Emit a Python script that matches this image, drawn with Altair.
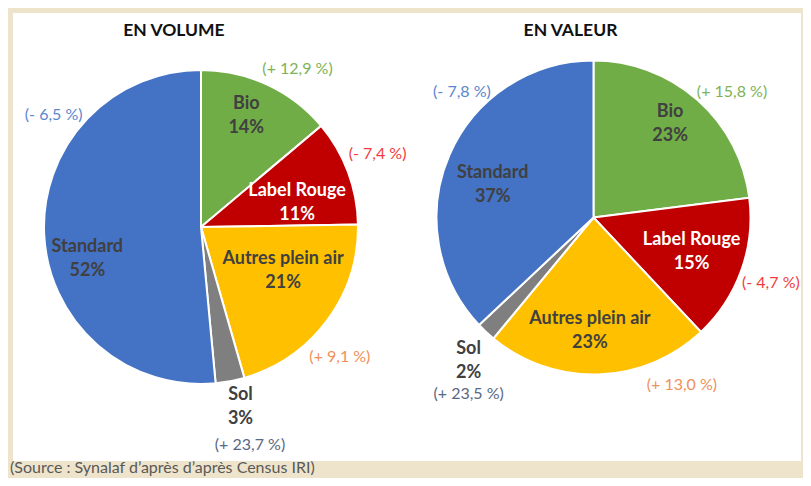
import math
import altair as alt
import pandas as pd

# ---------------- data ----------------
categories = ["Bio", "Label Rouge", "Autres plein air", "Sol", "Standard"]
volume_share = [14, 11, 21, 3, 52]
value_share = [23, 15, 23, 2, 37]
volume_change = ["(+ 12,9 %)", "(- 7,4 %)", "(+ 9,1 %)", "(+ 23,7 %)", "(- 6,5 %)"]
value_change = ["(+ 15,8 %)", "(- 4,7 %)", "(+ 13,0 %)", "(+ 23,5 %)", "(- 7,8 %)"]
titles = ["EN VOLUME", "EN VALEUR"]
source_text = "(Source : Synalaf d\u2019apr\u00e8s d\u2019apr\u00e8s Census IRI)"

# ---------------- styles / layout ----------------
slice_colors = ["#70AD47", "#C00000", "#FFC000", "#7F7F7F", "#4472C4"]
change_colors = ["#7DB356", "#F03C3C", "#F0905A", "#5A6782", "#5B86D0"]
label_colors = ["#404040", "#FFFFFF", "#404040", "#404040", "#404040"]

W, H = 795, 470
R = 157
centers = [(193, 219), (585.5, 209.5)]
title_pos = [(166, 23), (562.5, 23)]

# (angle nudge in degrees from slice mid-angle, radius in px)
label_nudge = [
    [(-2.8, 120), (6.7, 99), (-8.5, 93), (-1.7, 184), (-12.9, 118)],
    [(-2.1, 121), (-0.5, 104), (3.6, 114), (-2.1, 190), (-5.4, 106)],
]
change_nudge = [
    [(6.5, 185), (-1.9, 191), (6.5, 190), (-2.0, 223), (39.9, 185)],
    [(6.4, 187), (0.4, 189), (-26.1, 189), (-7.9, 216), (20.3, 182)],
]


def build(shares, changes, k):
    total = sum(shares)
    cx, cy = centers[k]
    rows = []
    cum = 0.0
    for i, (cat, s, ch) in enumerate(zip(categories, shares, changes)):
        mid = (cum + s / 2) / total * 360
        cum += s
        la, lr = label_nudge[k][i]
        ca, cr = change_nudge[k][i]
        a1 = math.radians(mid + la)
        a2 = math.radians(mid + ca)
        rows.append(dict(
            cat=cat, idx=i, share=s,
            label=f"{cat}\n{s}%",
            change=ch,
            lx=cx + lr * math.sin(a1), ly=cy - lr * math.cos(a1),
            chx=cx + cr * math.sin(a2), chy=cy - cr * math.cos(a2),
            lcol=label_colors[i], ccol=change_colors[i],
        ))
    return pd.DataFrame(rows)


frames = [build(volume_share, volume_change, 0), build(value_share, value_change, 1)]

panel = alt.Chart(pd.DataFrame({"a": [0]})).mark_rect(color="white").encode(
    x=alt.value(5), x2=alt.value(793), y=alt.value(5), y2=alt.value(453)
)

layers = [panel]
color_scale = alt.Scale(domain=categories, range=slice_colors)
for k, df in enumerate(frames):
    cx, cy = centers[k]
    arc = alt.Chart(df).mark_arc(radius=R, stroke="white", strokeWidth=2).encode(
        theta=alt.Theta("share:Q", stack=True),
        color=alt.Color("cat:N", scale=color_scale, legend=None),
        order=alt.Order("idx:Q"),
        x=alt.value(cx),
        y=alt.value(cy),
    )
    layers.append(arc)

for k, df in enumerate(frames):
    lab = alt.Chart(df).mark_text(
        font="Lato", fontSize=18, fontWeight="bold", lineBreak="\n", lineHeight=24,
        align="center", baseline="middle", dy=-12,
    ).encode(
        x=alt.X("lx:Q", scale=None, axis=None),
        y=alt.Y("ly:Q", scale=None, axis=None),
        text="label:N",
        color=alt.Color("lcol:N", scale=None),
    )
    chg = alt.Chart(df).mark_text(
        font="Lato", fontSize=16, align="center", baseline="middle",
    ).encode(
        x=alt.X("chx:Q", scale=None, axis=None),
        y=alt.Y("chy:Q", scale=None, axis=None),
        text="change:N",
        color=alt.Color("ccol:N", scale=None),
    )
    layers += [lab, chg]

title_df = pd.DataFrame({
    "t": titles,
    "tx": [p[0] for p in title_pos],
    "ty": [p[1] for p in title_pos],
})
title_layer = alt.Chart(title_df).mark_text(
    font="Lato", fontSize=17.5, fontWeight="bold", color="#111111",
    align="center", baseline="middle",
).encode(
    x=alt.X("tx:Q", scale=None, axis=None),
    y=alt.Y("ty:Q", scale=None, axis=None),
    text="t:N",
)

source_layer = alt.Chart(pd.DataFrame({"s": [source_text]})).mark_text(
    font="Lato", fontSize=16, color="#595959", align="left", baseline="middle",
).encode(x=alt.value(2), y=alt.value(460), text="s:N")

layers += [title_layer, source_layer]

chart = alt.layer(*layers).resolve_scale(theta="independent").properties(
    width=W, height=H,
    autosize=alt.AutoSizeParams(type="none"),
    padding=0,
    background="#EEE4CB",
).configure_view(stroke=None)

chart.save("out.html", embed_options={"renderer": "svg", "actions": False})
